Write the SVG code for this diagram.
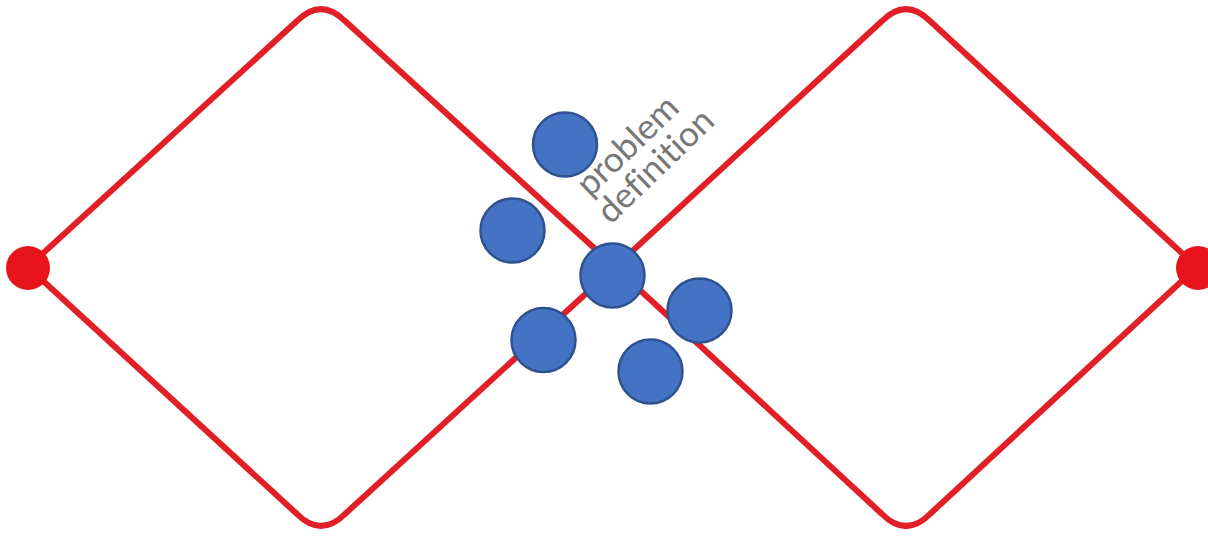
<svg xmlns="http://www.w3.org/2000/svg" width="1208" height="538" viewBox="0 0 1208 538">
  <style>
    .diamond { fill: none; stroke: #e21f26; stroke-width: 6; stroke-linejoin: round; }
    .end { fill: #e8141c; }
    .dot { fill: #4472c4; stroke: #2f528f; stroke-width: 2.5; }
    .label { font-family: Lato, "Liberation Sans", Arial, sans-serif; font-weight: 400; font-size: 35px; fill: #777777; font-variant-ligatures: none; }
  </style>
  <rect width="1208" height="538" fill="#ffffff"/>

  <g id="connectors">
    <!-- left diamond: rounded at top and bottom -->
    <path class="diamond" d="M28,267 L297,21 Q321,-3 345,21 L615,267 L345,514 Q321,538 297,514 Z"/>
    <!-- right diamond -->
    <path class="diamond" d="M615,267 L882,21 Q906,-3 930,21 L1197,267 L930,514 Q906,538 882,514 Z"/>
  </g>

  <g id="start-point"><circle class="end" cx="28" cy="268" r="22"/></g>
  <g id="end-point"><circle class="end" cx="1198" cy="268" r="22"/></g>

  <g id="problem-definition-label" transform="translate(590,198) rotate(-44)">
    <text class="label" x="0" y="0">problem</text>
    <text class="label" x="-4" y="34">definition</text>
  </g>

  <g id="dot-1"><circle class="dot" cx="565" cy="144.5" r="32"/></g>
  <g id="dot-2"><circle class="dot" cx="512.5" cy="230.5" r="32"/></g>
  <g id="dot-3"><circle class="dot" cx="612.5" cy="275.5" r="32"/></g>
  <g id="dot-4"><circle class="dot" cx="699.5" cy="310.5" r="32"/></g>
  <g id="dot-5"><circle class="dot" cx="543.5" cy="340" r="32"/></g>
  <g id="dot-6"><circle class="dot" cx="650.5" cy="371.5" r="32"/></g>
</svg>
